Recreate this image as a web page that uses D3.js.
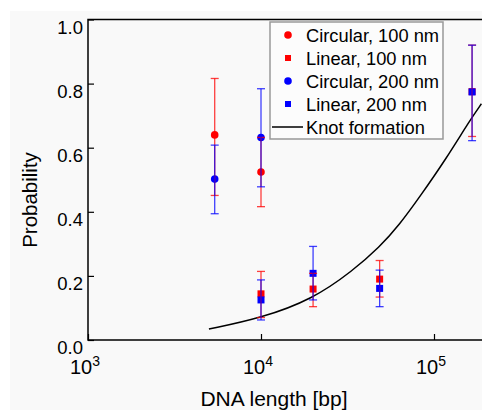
<!DOCTYPE html>
<html>
<head>
<meta charset="utf-8">
<script src="https://cdn.jsdelivr.net/npm/d3@7"></script>
<style>
  body { margin: 0; background: #fff; }
  text { font-family: "Liberation Sans", Arial, sans-serif; fill: #000; }
</style>
</head>
<body>
<script>
// DNA lengths (bp) and measured probabilities
var circLength = [5400, 10000];
var circ100 = [0.640, 0.524], circ100Lo = [0.451, 0.416], circ100Hi = [0.816, 0.632];
var circ200 = [0.502, 0.632], circ200Lo = [0.394, 0.478], circ200Hi = [0.608, 0.784];

var linLength = [10000, 20000, 48500, 166000];
var lin100 = [0.144, 0.159, 0.190, 0.775], lin100Lo = [0.070, 0.104, 0.134, 0.635], lin100Hi = [0.214, 0.208, 0.248, 0.920];
var lin200 = [0.125, 0.208, 0.161, 0.774], lin200Lo = [0.0625, 0.125, 0.104, 0.622], lin200Hi = [0.1875, 0.292, 0.218, 0.920];

// knot formation curve
var knotLength = [5000, 10000, 20000, 33900, 48500, 63200, 82600, 118000, 160600, 188000];
var knotProb = [0.034, 0.068, 0.128, 0.216, 0.290, 0.360, 0.446, 0.567, 0.684, 0.737];

var yTicks = [0, 0.2, 0.4, 0.6, 0.8, 1.0];
var xTicks = [1e3, 1e4, 1e5];
var legendItems = [
  {label: "Circular, 100 nm", color: "#ff0000", shape: "circle"},
  {label: "Linear, 100 nm", color: "#ff0000", shape: "square"},
  {label: "Circular, 200 nm", color: "#0000ff", shape: "circle"},
  {label: "Linear, 200 nm", color: "#0000ff", shape: "square"},
  {label: "Knot formation", color: "#000", shape: "line"}
];

var W = 482, H = 410;
var svg = d3.select("body").append("svg")
    .attr("width", W)
    .attr("height", H);

svg.append("rect")
    .attr("x", 10).attr("y", 11)
    .attr("width", W - 10).attr("height", H - 11)
    .attr("fill", "#f9f9f9");

var x = d3.scaleLog().domain([1e3, 1e6]).range([88, 88 + 3 * 173]);
var y = d3.scaleLinear().domain([0, 1]).range([340, 19.5]);

function pts(len, v, lo, hi) {
  return len.map(function(d, i) { return {x: d, y: v[i], lo: lo[i], hi: hi[i]}; });
}
var series = [
  {data: pts(linLength, lin100, lin100Lo, lin100Hi), color: "#ff0000", shape: "square"},
  {data: pts(circLength, circ100, circ100Lo, circ100Hi), color: "#ff0000", shape: "circle"},
  {data: pts(linLength, lin200, lin200Lo, lin200Hi), color: "#0000ff", shape: "square"},
  {data: pts(circLength, circ200, circ200Lo, circ200Hi), color: "#0000ff", shape: "circle"}
];

// knot curve
var knot = knotLength.map(function(d, i) { return [d, knotProb[i]]; });
svg.append("path")
    .datum(knot)
    .attr("fill", "none")
    .attr("stroke", "#000")
    .attr("stroke-width", 1.5)
    .attr("d", d3.line()
      .x(function(d) { return x(d[0]); })
      .y(function(d) { return y(d[1]); })
      .curve(d3.curveBasis));

// markers
series.forEach(function(s) {
  var g = svg.append("g").attr("fill", s.color);
  if (s.shape == "circle") {
    g.selectAll("circle").data(s.data).enter().append("circle")
      .attr("cx", function(d) { return x(d.x); })
      .attr("cy", function(d) { return y(d.y); })
      .attr("r", 3.8);
  } else {
    g.selectAll("rect").data(s.data).enter().append("rect")
      .attr("x", function(d) { return x(d.x) - 3.5; })
      .attr("y", function(d) { return y(d.y) - 3.5; })
      .attr("width", 7).attr("height", 7);
  }
});

// error bars
series.forEach(function(s) {
  var g = svg.append("g")
      .attr("stroke", s.color)
      .attr("stroke-width", 1.3)
      .attr("stroke-opacity", 0.75);
  var e = g.selectAll("g").data(s.data).enter().append("g");
  e.append("line")
    .attr("x1", function(d) { return x(d.x); })
    .attr("x2", function(d) { return x(d.x); })
    .attr("y1", function(d) { return y(d.lo); })
    .attr("y2", function(d) { return y(d.hi); });
  ["lo", "hi"].forEach(function(k) {
    e.append("line")
      .attr("x1", function(d) { return x(d.x) - 4; })
      .attr("x2", function(d) { return x(d.x) + 4; })
      .attr("y1", function(d) { return y(d[k]); })
      .attr("y2", function(d) { return y(d[k]); });
  });
});

// axes frame
svg.append("path")
    .attr("fill", "none")
    .attr("stroke", "#000")
    .attr("stroke-width", 1.5)
    .attr("d", "M" + W + "," + y(1) + "H" + x(1e3) + "V" + y(0) + "H" + W);

svg.append("g")
    .attr("transform", "translate(" + x(1e3) + ",0)")
    .call(d3.axisRight(y).tickValues(yTicks).tickSize(6).tickFormat(""))
    .call(function(g) { g.select(".domain").remove(); g.selectAll("line").attr("stroke-width", 1.2); });

svg.append("g")
    .attr("transform", "translate(0," + y(0) + ")")
    .call(d3.axisTop(x).tickValues(xTicks).tickSize(6).tickFormat(""))
    .call(function(g) { g.select(".domain").remove(); g.selectAll("line").attr("stroke-width", 1.2); });

// tick labels
svg.selectAll(".ylab").data(yTicks).enter().append("text")
    .attr("class", "ylab")
    .attr("x", x(1e3) - 5)
    .attr("y", function(d) { return y(d) + 14; })
    .attr("text-anchor", "end")
    .style("font-size", "18.5px")
    .text(d3.format(".1f"));

var xl = svg.selectAll(".xlab").data(xTicks).enter().append("text")
    .attr("class", "xlab")
    .attr("x", function(d) { return x(d) - 3; })
    .attr("y", 374)
    .attr("text-anchor", "middle")
    .style("font-size", "20px");
xl.append("tspan").text("10");
xl.append("tspan")
    .attr("dy", -8)
    .style("font-size", "14px")
    .text(function(d) { return Math.round(Math.log10(d)); });

// axis titles
svg.append("text")
    .attr("x", 274).attr("y", 405.5)
    .attr("text-anchor", "middle")
    .style("font-size", "21px")
    .text("DNA length [bp]");

svg.append("text")
    .attr("transform", "translate(37,200) rotate(-90)")
    .attr("text-anchor", "middle")
    .style("font-size", "20.5px")
    .text("Probability");

// legend
var leg = svg.append("g");
leg.append("rect")
    .attr("x", 270).attr("y", 22)
    .attr("width", 173).attr("height", 117)
    .attr("fill", "#fcfcfc")
    .attr("stroke", "#999")
    .attr("stroke-width", 1.5);

var row = leg.selectAll(".row").data(legendItems).enter().append("g")
    .attr("class", "row")
    .attr("transform", function(d, i) { return "translate(0," + (35 + i * 23) + ")"; });

row.each(function(d) {
  var r = d3.select(this);
  if (d.shape == "circle") {
    r.append("circle").attr("cx", 288).attr("cy", 0).attr("r", 3.8).attr("fill", d.color);
  } else if (d.shape == "square") {
    r.append("rect").attr("x", 285).attr("y", -3).attr("width", 6).attr("height", 6).attr("fill", d.color);
  } else {
    r.append("line").attr("x1", 272).attr("x2", 303).attr("y1", 0).attr("y2", 0)
      .attr("stroke", d.color).attr("stroke-width", 1.5);
  }
});
row.append("text")
    .attr("x", 306)
    .attr("y", 6.5)
    .style("font-size", "18.3px")
    .text(function(d) { return d.label; });
</script>
</body>
</html>
